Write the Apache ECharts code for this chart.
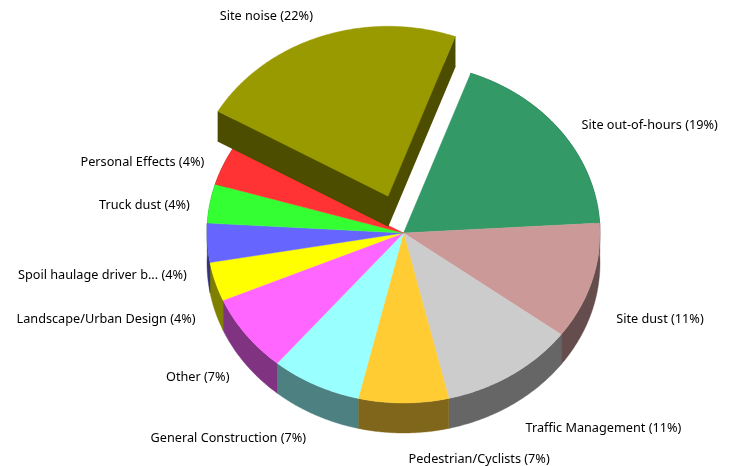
<!DOCTYPE html>
<html>
<head>
<meta charset="utf-8">
<style>html,body{margin:0;padding:0;background:#fff}#c{width:734px;height:466px}</style>
<script src="https://cdn.jsdelivr.net/npm/echarts@6/dist/echarts.min.js"></script>
</head>
<body>
<div id="c"></div>
<script>
// --- data ---
const categories = ['Site noise','Site out-of-hours','Site dust','Traffic Management','Pedestrian/Cyclists','General Construction','Other','Landscape/Urban Design','Spoil haulage driver b...','Truck dust','Personal Effects'];
const counts = [6,5,3,3,2,2,2,1,1,1,1];
const colors = ['#999900','#339966','#CC9999','#CCCCCC','#FFCC33','#99FFFF','#FF66FF','#FFFF00','#6666FF','#33FF33','#FF3333'];

// --- layout of the 3D pie ---
const CX = 403.5, CY = 233, RX = 196.5, RY = 170, DEPTH = 30;
const START_DEG = -60, EXPLODED = 0, EXPLODE_K = 0.23;
const LABEL_RX_RIGHT = 222, LABEL_RX_LEFT = 217, LABEL_RY = 190;
const LABEL_SHIFT_UPPER = 5, LABEL_SHIFT_LOWER = 31.5;
// small per-label adjustments [dx, dy], same order as categories
const labelNudge = [[0,-3.5],[0,1],[0,0],[0,5],[5,5],[0,4],[0,-1],[0,0],[0,0],[0,0],[0,0]];

const total = counts.reduce((a, b) => a + b, 0);
const rad = d => d * Math.PI / 180;
function darker(hex) {
  const n = parseInt(hex.slice(1), 16);
  return 'rgb(' + [(n >> 16) & 255, (n >> 8) & 255, n & 255].map(c => Math.round(c * 0.5)).join(',') + ')';
}
function arc(a0, a1, ox, oy) {
  const pts = [], steps = Math.max(2, Math.ceil((a1 - a0) * 2));
  for (let i = 0; i <= steps; i++) {
    const t = rad(a0 + (a1 - a0) * i / steps);
    pts.push([ox + RX * Math.sin(t), oy - RY * Math.cos(t)]);
  }
  return pts;
}
function poly(points, fill, z2) {
  return { type: 'polygon', z2, silent: true, shape: { points },
    style: { fill, stroke: fill, lineWidth: 0.4 } };
}
function renderItem(params, api) {
  const i = params.dataIndex;
  const before = counts.slice(0, i).reduce((a, b) => a + b, 0);
  const a0 = START_DEG + before / total * 360;
  const a1 = a0 + api.value(0) / total * 360;
  const mid = rad((a0 + a1) / 2);
  const exploded = i === EXPLODED;
  const ox = CX + (exploded ? EXPLODE_K * RX * Math.sin(mid) : 0);
  const oy = CY - (exploded ? EXPLODE_K * RY * Math.cos(mid) : 0);
  const top = arc(a0, a1, ox, oy);
  const side = darker(colors[i]);
  const children = [];
  if (exploded) {
    const low = top.map(p => [p[0], p[1] + DEPTH]);
    children.push(poly([[ox, oy + DEPTH]].concat(low), side, 3));
    children.push(poly([top[0], [ox, oy], [ox, oy + DEPTH], low[0]], side, 3));
    children.push(poly([[ox, oy], top[top.length - 1], low[low.length - 1], [ox, oy + DEPTH]], side, 3));
  } else {
    const low = top.map(p => [p[0], p[1] + DEPTH]).reverse();
    children.push(poly(top.concat(low), side, 1));
  }
  children.push(poly([[ox, oy]].concat(top), colors[i], exploded ? 4 : 2));

  const s = Math.sin(mid), c = Math.cos(mid);
  const right = s > -1e-6;
  const f = exploded ? 1 + EXPLODE_K - 0.01 : 1;
  const n = labelNudge[i];
  const lx = CX + s * (right && !exploded ? LABEL_RX_RIGHT : LABEL_RX_LEFT) * f + n[0];
  const ly = CY - c * LABEL_RY * f + (c < 0 ? LABEL_SHIFT_LOWER : LABEL_SHIFT_UPPER) + n[1];
  const pct = Math.round(api.value(0) / total * 100);
  children.push({
    type: 'text', z2: 5, silent: true,
    style: {
      x: lx, y: ly,
      text: categories[i] + ' (' + pct + '%)',
      fill: '#000', font: '12.7px "Noto Sans"',
      align: (right && !exploded) ? 'left' : 'right', verticalAlign: 'middle'
    }
  });
  return { type: 'group', children };
}

const chart = echarts.init(document.getElementById('c'), null, { renderer: 'canvas' });
chart.setOption({
  animation: false,
  backgroundColor: '#fff',
  series: [{
    type: 'custom',
    coordinateSystem: 'none',
    renderItem,
    silent: true,
    data: categories.map((name, i) => ({ name, value: [counts[i]] }))
  }]
});
</script>
</body>
</html>
